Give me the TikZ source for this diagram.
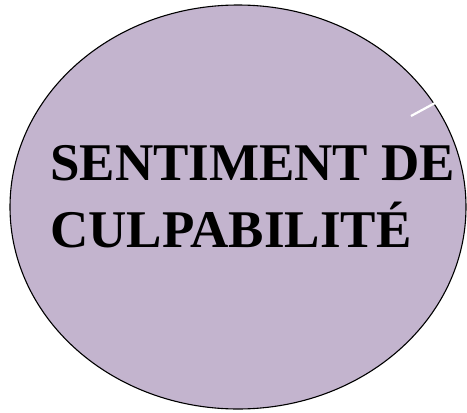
\documentclass[tikz,border=0pt]{standalone}
\usepackage{fontspec}
\setmainfont{Liberation Serif}
\definecolor{lav}{HTML}{C3B4CE}
\tikzset{
  bubble/.style={draw=black, line width=1.1pt, fill=lav},
  title/.style={font=\fontsize{53}{67}\selectfont\bfseries, align=left, inner sep=0pt, anchor=base west, text=black},
  tick/.style={draw=white, line width=2.2pt}
}
\begin{document}
\begin{tikzpicture}[x=1pt,y=-1pt]
\useasboundingbox (0,0) rectangle (467,413);
\fill[white] (0,0) rectangle (467,413);
\draw[bubble] (238,207) ellipse [x radius=228, y radius=202];
\node[title] (lbl) at (50,247) {SENTIMENT DE\\CULPABILITÉ};
\coordinate (t1) at (411,116);
\coordinate (t2) at (435,103);
\draw[tick] (t1) -- (t2);
\end{tikzpicture}
\end{document}
